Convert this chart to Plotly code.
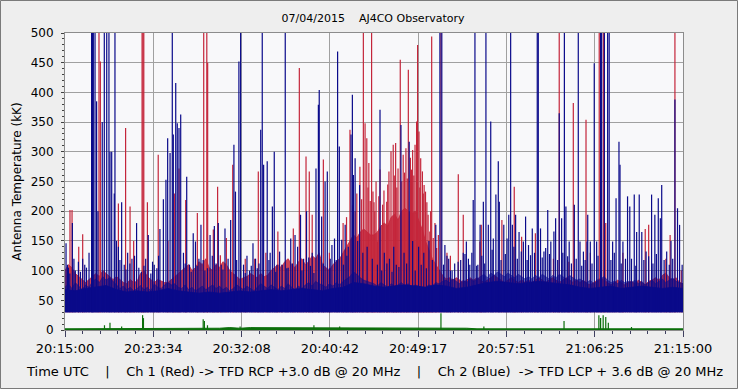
import plotly.graph_objects as go

# ---------------- data ----------------
# time axis in seconds after 20:15:00 UTC
x_tick_vals = [0, 514.29, 1028.57, 1542.86, 2057.14, 2571.43, 3085.71, 3600]
x_tick_text = ["20:15:00", "20:23:34", "20:32:08", "20:40:42", "20:49:17",
               "20:57:51", "21:06:25", "21:15:00"]
y_tick_vals = [0, 50, 100, 150, 200, 250, 300, 350, 400, 450, 500]

# outer (sparse) envelope of the dense band, sampled every 20 s (0 .. 3600 s)
band_t = list(range(0, 3601, 20))
blue_top = [
    72, 78, 70, 80, 74, 68, 76, 72, 82, 86, 80, 90, 84, 88, 82,
    76, 70, 74, 68, 72, 66, 70, 75, 68, 72, 66, 78, 72, 70, 76,
    80, 76, 78, 72, 70, 76, 68, 72, 66, 70, 74, 68, 72, 76, 70,
    74, 68, 72, 66, 70, 76, 72, 68, 74, 70, 66, 72, 78, 74, 70,
    76, 72, 68, 74, 70, 78, 72, 68, 74, 70, 76, 80, 74, 82, 78,
    76, 72, 78, 74, 80, 76, 82, 86, 90, 98, 94, 88, 84, 82, 80,
    78, 74, 80, 76, 72, 78, 74, 76, 80, 74, 78, 72, 76, 74, 72,
    72, 76, 74, 80, 78, 82, 84, 80, 86, 82, 78, 84, 80, 86, 82,
    86, 90, 94, 88, 96, 92, 98, 94, 90, 96, 92, 88, 94, 90, 86,
    90, 86, 92, 88, 94, 90, 86, 92, 88, 94, 90, 86, 92, 88, 84,
    86, 82, 80, 84, 78, 82, 86, 90, 84, 80, 82, 78, 84, 80, 82,
    80, 84, 78, 82, 76, 80, 84, 78, 82, 86, 80, 84, 88, 82, 80,
    78,
]
red_top = [
    100, 110, 105, 95, 90, 85, 80, 85, 90, 95, 90, 100, 95, 90, 85,
    90, 85, 80, 78, 85, 80, 82, 95, 100, 90, 85, 80, 85, 82, 80,
    80, 85, 90, 95, 100, 105, 110, 100, 105, 115, 110, 120, 105, 100, 110,
    105, 115, 110, 100, 95, 90, 85, 88, 90, 95, 92, 88, 95, 90, 92,
    100, 105, 110, 105, 115, 120, 110, 105, 115, 120, 110, 115, 125, 120, 130,
    110, 105, 100, 110, 115, 120, 130, 140, 150, 160, 155, 165, 170, 165, 160,
    160, 165, 175, 180, 175, 190, 195, 185, 200, 205, 200, 195, 200, 185, 170,
    150, 135, 120, 110, 100, 92, 86, 88, 84, 88, 84, 80, 84, 88, 84,
    88, 84, 80, 84, 88, 92, 88, 84, 80, 84, 88, 84, 80, 84, 80,
    84, 80, 84, 88, 84, 80, 84, 88, 84, 80, 84, 88, 84, 80, 84,
    80, 84, 78, 76, 80, 84, 88, 84, 80, 76, 80, 84, 80, 76, 80,
    82, 78, 84, 80, 76, 82, 84, 88, 84, 92, 96, 88, 84, 88, 80,
    78,
]
# solid core of the blue band, sampled every 60 s
core_t = list(range(0, 3601, 60))
blue_core = [68, 66, 70, 72, 75, 68, 64, 66, 64, 66,
             70, 66, 64, 62, 64, 62, 64, 66, 64, 66,
             68, 66, 68, 70, 68, 66, 70, 72, 80, 78,
             74, 72, 74, 76, 74, 72, 76, 74, 70, 72,
             76, 80, 82, 80, 78, 80, 82, 80, 78, 76,
             72, 70, 72, 74, 70, 72, 74, 72, 70, 72,
             70]
band_floor = 30

# individual spikes (time s, antenna temperature kK); >500 runs off the chart
blue_spike_t = [6, 14, 28, 43, 60, 78, 103, 125, 140, 155, 160, 165, 175, 184, 192,
                217, 229, 243, 256, 262, 272, 287, 291, 300, 311, 330, 345, 365, 390, 417,
                430, 470, 485, 500, 520, 553, 573, 588, 598, 612, 625, 631, 645, 654, 664,
                674, 690, 709, 725, 747, 760, 780, 792, 815, 845, 870, 893, 910, 932, 950,
                965, 984, 993, 1013, 1023, 1040, 1060, 1075, 1095, 1110, 1140, 1149, 1157, 1178, 1195,
                1208, 1219, 1235, 1250, 1283, 1300, 1315, 1340, 1355, 1372, 1390, 1407, 1440, 1462, 1476,
                1481, 1495, 1515, 1528, 1545, 1555, 1570, 1588, 1598, 1612, 1632, 1650, 1666, 1674, 1680,
                1690, 1705, 1716, 1735, 1760, 1790, 1820, 1835, 1860, 1890, 1915, 1930, 1957, 1975, 2005,
                2025, 2060, 2090, 2120, 2160, 2184, 2195, 2213, 2235, 2255, 2290, 2320, 2338, 2358, 2370,
                2378, 2388, 2405, 2418, 2437, 2452, 2466, 2480, 2495, 2510, 2524, 2530, 2556, 2575, 2585,
                2596, 2606, 2625, 2645, 2670, 2683, 2700, 2722, 2751, 2757, 2770, 2790, 2812, 2830, 2848,
                2858, 2879, 2893, 2909, 2918, 2937, 2967, 2990, 3000, 3020, 3041, 3045, 3060, 3083, 3097,
                3120, 3126, 3142, 3161, 3170, 3190, 3210, 3227, 3233, 3250, 3265, 3277, 3290, 3316, 3330,
                3345, 3360, 3385, 3417, 3436, 3456, 3468, 3476, 3505, 3530, 3553, 3568, 3580, 3595,
                20, 52, 90, 115, 320, 355, 378, 405, 445, 460, 510, 535, 545, 700, 735,
                770, 805, 830, 858, 880, 920, 1000, 1050, 1085, 1120, 1130, 1188, 1228, 1265, 1292,
                1325, 1380, 1420, 1430, 1450, 1505, 1540, 1580, 1622, 1642, 1845, 1875, 1905, 1945, 1990,
                2040, 2075, 2105, 2140, 2205, 2225, 2245, 2270, 2305, 2330, 2350, 2398, 2428, 2445, 2488,
                2540, 2565, 2615, 2635, 2658, 2692, 2712, 2735, 2780, 2800, 2822, 2870, 2900, 2928, 2950,
                2978, 3010, 3030, 3070, 3105, 3180, 3200, 3240, 3300, 3325, 3372, 3400, 3425, 3445, 3490,
                3520, 3540]
blue_spike_v = [146, 110, 95, 180, 100, 115, 120, 105, 130, 520, 520, 520, 520, 385, 200,
                350, 520, 520, 520, 300, 300, 230, 520, 150, 140, 215, 110, 130, 120, 180,
                105, 120, 160, 95, 110, 170, 220, 253, 323, 298, 520, 329, 416, 348, 340,
                363, 130, 258, 110, 163, 149, 120, 177, 100, 160, 175, 180, 110, 171, 120,
                185, 312, 233, 452, 520, 110, 125, 100, 146, 120, 337, 520, 278, 284, 130,
                208, 300, 110, 132, 520, 105, 154, 160, 140, 194, 120, 200, 130, 272, 379,
                404, 191, 250, 267, 120, 143, 154, 469, 309, 152, 177, 140, 329, 396, 261,
                289, 150, 244, 130, 140, 120, 110, 371, 130, 120, 140, 110, 345, 130, 317,
                150, 140, 130, 150, 177, 520, 520, 143, 120, 100, 115, 130, 149, 110, 130,
                219, 520, 110, 177, 216, 520, 177, 351, 154, 228, 284, 216, 177, 154, 194,
                520, 177, 194, 165, 149, 191, 143, 171, 520, 520, 171, 132, 202, 149, 166,
                188, 365, 188, 520, 208, 149, 211, 520, 149, 132, 149, 194, 149, 449, 149,
                520, 520, 520, 520, 520, 149, 222, 317, 278, 149, 120, 225, 208, 228, 165,
                228, 165, 132, 228, 194, 222, 188, 244, 132, 150, 388, 205, 177, 110,
                105, 120, 98, 110, 118, 102, 112, 125, 98, 108, 115, 104, 125, 112, 98,
                108, 118, 104, 125, 112, 102, 118, 96, 108, 104, 112, 118, 98, 110, 104,
                112, 100, 122, 108, 96, 112, 104, 118, 110, 125, 100, 112, 98, 106, 112,
                100, 110, 104, 118, 110, 125, 100, 112, 118, 128, 120, 108, 125, 112, 135,
                118, 128, 140, 120, 132, 118, 126, 130, 122, 138, 128, 118, 130, 124, 112,
                120, 108, 118, 112, 125, 118, 130, 112, 120, 108, 118, 124, 112, 128, 118,
                110, 120]

red_spike_t = [29, 41, 80, 103, 198, 206, 311, 353, 379, 400, 449, 454, 459,
               480, 543, 600, 637, 664, 703, 771, 808, 826, 831, 864, 889, 905,
               940, 977, 1050, 1105, 1126, 1170, 1240, 1262, 1330, 1365, 1404, 1423, 1440, 1505, 1540,
               1620, 1660, 1690, 1718, 1738, 1748, 1758, 1770, 1778, 1786, 1794, 1805, 1812, 1820, 1835,
               1850, 1874, 1887, 1899, 1912, 1926, 1940, 1953, 1970, 1986, 2000, 2012, 2025, 2039, 2048,
               2054, 2062, 2072, 2082, 2092, 2100, 2115, 2125, 2136, 2145, 2165, 2190, 2225, 2245,
               2291, 2320, 2417, 2425, 2545, 2617, 2660, 2740, 2845, 2879, 2935, 2961, 3035, 3060, 3112,
               3136, 3150, 3250, 3380, 3400, 3500, 3525, 3553, 3590,
               1640, 1675, 1700, 1728, 1765, 1800, 1828, 1858, 1880, 1918, 1933, 1962, 1978, 1994, 2018,
               2032, 2067, 2087, 2108, 2130, 2155, 2175]
red_spike_v = [202, 202, 140, 161, 520, 452, 213, 340, 208, 150, 520, 520, 520,
               215, 295, 150, 230, 272, 219, 197, 520, 520, 450, 169, 241, 126,
               155, 278, 120, 120, 267, 130, 166, 110, 171, 441, 292, 267, 194, 287, 130,
               180, 337, 200, 275, 520, 348, 323, 281, 217, 520, 233, 200, 250, 149, 270,
               211, 216, 267, 301, 312, 315, 272, 455, 295, 306, 438, 290, 303, 312, 351,
               480, 334, 289, 267, 244, 233, 194, 166, 494, 155, 138, 520, 130, 125,
               262, 194, 149, 177, 185, 241, 157, 163, 120, 520, 115, 382, 354, 130, 520,
               520, 180, 130, 170, 177, 120, 160, 520, 100,
               190, 210, 230, 220, 240, 215, 225, 235, 245, 260, 240, 250, 265, 255, 270,
               260, 240, 230, 215, 200, 180, 160]

# green channel, sampled every 60 s, plus its spikes
green_t = list(range(0, 3601, 60))
green_v = [2, 2, 3, 2, 2, 3, 2, 2, 3, 2, 2, 2, 2, 3, 3, 3, 4, 3, 4, 4, 3,
           4, 3, 4, 3, 4, 4, 4, 3, 4, 4, 4, 4, 4, 4, 4, 3, 4, 3, 3, 2,
           2, 2, 2, 2, 2, 2, 2, 2, 2, 2, 2, 2, 2, 2, 2, 2, 2, 2, 2, 2]
green_spike_t = [230, 262, 330, 452, 457, 805, 812, 830, 1020, 1450, 1600, 2190,
                 2440, 2907, 3110, 3120, 3135, 3150, 3165, 3300]
green_spike_v = [8, 12, 6, 25, 20, 18, 15, 8, 6, 8, 6, 28, 6, 15, 25, 20, 25, 22, 12, 5]

# ---------------- styling ----------------
RED = "#C4253A"
BLUE = "#0A0A8A"
GREEN = "#0B6E0B"
FONT = "DejaVu Sans"
W, H = 738, 389
ML, MR, MT, MB = 65, 55, 33, 59


def spikes(ts, vs, base):
    xs, ys = [], []
    for t, v in zip(ts, vs):
        xs += [t, t, None]
        ys += [base, v, None]
    return xs, ys


fig = go.Figure()

# red channel (behind)
fig.add_trace(go.Scatter(x=band_t, y=[band_floor] * len(band_t), mode="lines",
                         line=dict(width=0, color=RED), hoverinfo="skip", showlegend=False))
fig.add_trace(go.Scatter(x=band_t, y=red_top, mode="lines", fill="tonexty",
                         fillcolor="rgba(196,37,58,0.85)", line=dict(width=0.8, color=RED),
                         showlegend=False))
rx, ry = spikes(red_spike_t, red_spike_v, band_floor)
fig.add_trace(go.Scatter(x=rx, y=ry, mode="lines", line=dict(width=1.2, color=RED),
                         showlegend=False))

# blue channel: translucent outer envelope, then solid core
fig.add_trace(go.Scatter(x=band_t, y=[band_floor] * len(band_t), mode="lines",
                         line=dict(width=0, color=BLUE), hoverinfo="skip", showlegend=False))
fig.add_trace(go.Scatter(x=band_t, y=blue_top, mode="lines", fill="tonexty",
                         fillcolor="rgba(10,10,138,0.6)", line=dict(width=0.6, color="rgba(10,10,138,0.7)"),
                         showlegend=False))
fig.add_trace(go.Scatter(x=core_t, y=[band_floor] * len(core_t), mode="lines",
                         line=dict(width=0, color=BLUE), hoverinfo="skip", showlegend=False))
fig.add_trace(go.Scatter(x=core_t, y=blue_core, mode="lines", fill="tonexty",
                         fillcolor=BLUE, line=dict(width=0.8, color=BLUE), showlegend=False))
bx, by = spikes(blue_spike_t, blue_spike_v, band_floor)
fig.add_trace(go.Scatter(x=bx, y=by, mode="lines", line=dict(width=1.2, color=BLUE),
                         showlegend=False))

# green channel
fig.add_trace(go.Scatter(x=green_t, y=green_v, mode="lines", fill="tozeroy",
                         fillcolor=GREEN, line=dict(width=1, color=GREEN), showlegend=False))
gx, gy = spikes(green_spike_t, green_spike_v, 0)
fig.add_trace(go.Scatter(x=gx, y=gy, mode="lines", line=dict(width=1.2, color=GREEN),
                         showlegend=False))

pw, ph = W - ML - MR, H - MT - MB


def px_x(p):
    return (p - ML) / pw


def px_y(p):
    return (H - MB - p) / ph


NB = "\u00a0"
bottom_text = ("Time UTC" + NB * 4 + "|" + NB * 4 + "Ch 1 (Red) -> TFD RCP +3.0 dB @ 20 MHz"
               + NB * 4 + "|" + NB * 4 + "Ch 2 (Blue)" + NB * 2 + "-> TFD LCP + 3.6 dB @ 20 MHz")

fig.update_layout(
    width=W, height=H,
    margin=dict(l=ML, r=MR, t=MT, b=MB, pad=0, autoexpand=False),
    paper_bgcolor="#EEEEEE",
    plot_bgcolor="#F8F8FA",
    font=dict(family=FONT, size=12, color="#000000"),
    title=dict(text="07/04/2015" + NB * 4 + "AJ4CO Observatory",
               x=px_x(373), xref="paper", xanchor="center", y=1 - 18 / H, yanchor="middle",
               font=dict(family=FONT, size=11, color="#000000")),
    showlegend=False,
    xaxis=dict(range=[0, 3600], tickmode="array", tickvals=x_tick_vals, ticktext=x_tick_text,
               automargin=False,
               showgrid=True, gridcolor="#A0A0A0", gridwidth=1, zeroline=False,
               showline=True, linecolor="#8C8C8C", mirror=True,
               ticks="outside", ticklen=6, tickcolor="#404060",
               minor=dict(dtick=3600 / 35, tick0=0, ticks="outside", ticklen=3,
                          tickcolor="#404060", showgrid=False),
               tickfont=dict(family=FONT, size=13)),
    yaxis=dict(range=[0, 500], tickmode="array", tickvals=y_tick_vals,
               automargin=False,
               showgrid=True, gridcolor="#A0A0A0", gridwidth=1, zeroline=False,
               showline=True, linecolor="#8C8C8C", mirror=True,
               ticks="outside", ticklen=3, tickcolor="#404040",
               ticklabelstandoff=5,
               minor=dict(dtick=10, tick0=0, ticks="outside", ticklen=2,
                          tickcolor="#404040", showgrid=False),
               tickfont=dict(family=FONT, size=12),
               title=dict(text="Antenna Temperature (kK)", standoff=6,
                          font=dict(family=FONT, size=12))),
    annotations=[dict(
        text=bottom_text,
        xref="paper", yref="paper", x=px_x(374), y=px_y(371), xanchor="center",
        yanchor="middle", showarrow=False, font=dict(family=FONT, size=13, color="#000000"))],
    shapes=[dict(type="rect", xref="paper", yref="paper",
                 x0=px_x(0.5), x1=px_x(W - 0.5), y0=px_y(H - 0.5), y1=px_y(0.5),
                 line=dict(color="#7A7A7A", width=1), layer="below")],
)

fig.write_html("out.html", config={"displayModeBar": False},
               post_script="document.body.style.margin='0';document.body.style.overflow='hidden';")
